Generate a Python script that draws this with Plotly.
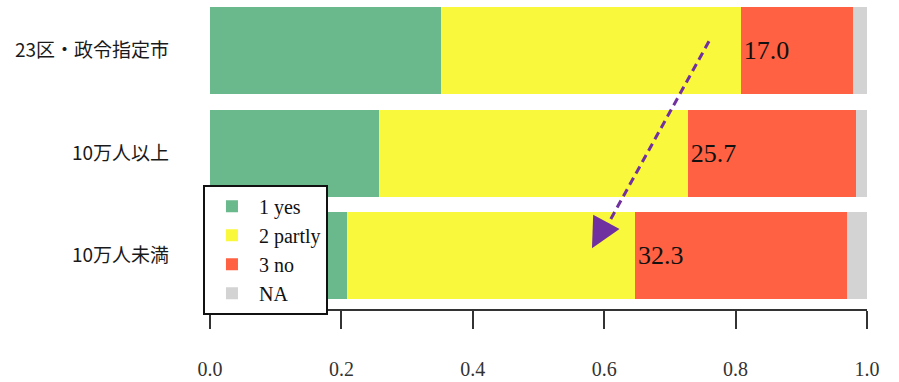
import plotly.graph_objects as go

# ---- data ----
categories = ["23区・政令指定市", "10万人以上", "10万人未満"]
series_names = ["1 yes", "2 partly", "3 no", "NA"]
yes_vals = [0.351, 0.257, 0.208]
partly_vals = [0.457, 0.470, 0.439]
no_vals = [0.170, 0.257, 0.323]
na_vals = [0.022, 0.016, 0.030]
x_ticks = [0.0, 0.2, 0.4, 0.6, 0.8, 1.0]
x_tick_labels = ["0.0", "0.2", "0.4", "0.6", "0.8", "1.0"]
no_labels = [f"{v * 100:.1f}" for v in no_vals]

colors = ["#69B98D", "#FAF83C", "#FF6142", "#D3D3D3"]
serif = "Liberation Serif, Times New Roman, serif"

fig = go.Figure()
for name, vals, col in zip(series_names, [yes_vals, partly_vals, no_vals, na_vals], colors):
    kw = {}
    if name == "3 no":
        kw = dict(text=no_labels, textposition="inside", insidetextanchor="start",
                  textfont=dict(family=serif, size=26, color="#111111"),
                  constraintext="none")
    fig.add_trace(go.Bar(
        y=categories, x=vals, name=name, orientation="h",
        marker=dict(color=col, line=dict(width=0)),
        hoverinfo="skip", **kw))

# dashed purple arrow (annotation)
fig.add_shape(type="line", xref="x", yref="paper",
              x0=0.7595, y0=0.872, x1=0.602, y1=0.262,
              line=dict(color="#7030A0", width=3, dash="8px,5px"))
fig.add_annotation(xref="x", yref="paper", x=0.5814, y=0.198,
                   ax=12, ay=-22, axref="pixel", ayref="pixel",
                   text="", showarrow=True, arrowhead=2, arrowsize=2.0,
                   arrowwidth=3, arrowcolor="#7030A0")

fig.update_layout(
    width=899, height=382,
    barmode="stack", bargap=0.15,
    plot_bgcolor="white", paper_bgcolor="white",
    margin=dict(l=210, r=32, t=2, b=67),
    showlegend=True,
    legend=dict(x=-0.0107, y=0.405, xanchor="left", yanchor="top",
                traceorder="normal", bgcolor="white",
                bordercolor="#111111", borderwidth=2,
                itemwidth=44, entrywidth=88, entrywidthmode="pixels",
                font=dict(family=serif, size=20, color="#111111")),
    xaxis=dict(range=[0, 1], tickvals=x_ticks, ticktext=x_tick_labels,
               showgrid=False, zeroline=False,
               showline=True, linecolor="#333333", linewidth=1.5,
               ticks="outside", ticklen=18, tickwidth=1.5, tickcolor="#333333",
               ticklabelstandoff=23,
               tickfont=dict(family=serif, size=20, color="#333333")),
    yaxis=dict(categoryorder="array", categoryarray=list(reversed(categories)),
               range=[-0.5215, 2.474], showgrid=False, zeroline=False,
               showline=False, ticks="", ticklabelstandoff=40,
               tickfont=dict(family="Noto Sans CJK JP", size=19, color="#1a1a1a")),
)

fig.write_html("out.html", config={"displayModeBar": False},
               post_script="document.body.style.margin='0';document.body.style.padding='0';")
